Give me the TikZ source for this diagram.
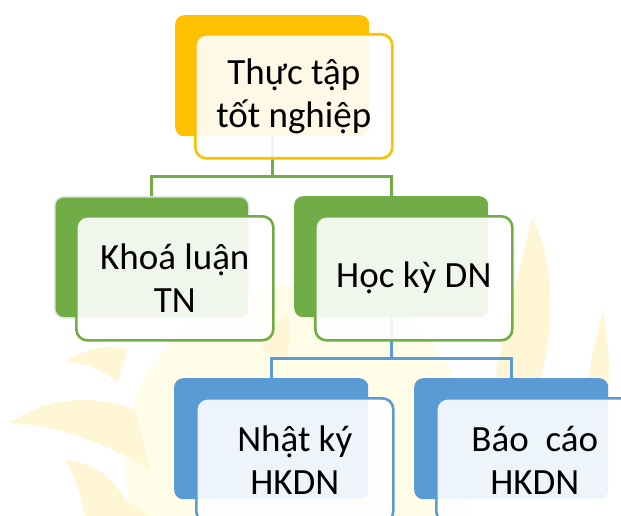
\documentclass[tikz,border=0pt]{standalone}
\usepackage{fontspec}
\setmainfont{Carlito}
\usetikzlibrary{positioning, backgrounds}
\definecolor{GoldYellow}{HTML}{FFC000}
\definecolor{LeafGreen}{HTML}{70AD47}
\definecolor{SkyBlue}{HTML}{5B9BD5}
\definecolor{SunPetal}{HTML}{FFF6D6}
\definecolor{SunCore}{HTML}{FFFCE8}

\begin{document}
\begin{tikzpicture}[
        x=1pt, y=-1pt,
        % Caja trasera (color lleno)
        backbox/.style={
                rectangle,
                rounded corners=9pt,
                minimum width=194pt,
                minimum height=121pt,
                anchor=north west
            },
        % Caja delantera con el texto
        frontbox/.style={
                rectangle,
                rounded corners=11pt,
                minimum width=197pt,
                minimum height=124pt,
                line width=2.6pt,
                fill=white, fill opacity=0.9, text opacity=1,
                text centered,
                align=center,
                font=\fontsize{37}{43}\selectfont,
                anchor=north west
            },
        % Conectores
        link/.style={line width=3pt}
    ]

    \useasboundingbox (0,0) rectangle (621,516);
    \clip (0,0) rectangle (621,516);

    % FONDO (marca de agua)
    \begin{scope}[on background layer]
        \fill[white] (0,0) rectangle (621,516);
        \fill[SunCore] (300,460) circle (175);
        \fill[SunPetal] (65,362) .. controls (90,345) and (115,345) .. (128,350)
            .. controls (122,365) and (120,375) .. (118,382)
            .. controls (100,370) and (85,362) .. (65,362);
        \fill[SunPetal] (10,423) .. controls (50,395) and (100,395) .. (135,410)
            -- (150,470) .. controls (110,445) and (60,425) .. (10,423);
        \fill[SunPetal] (65,460) .. controls (95,462) and (115,480) .. (125,500)
            -- (150,516) -- (85,516) .. controls (80,495) and (75,475) .. (65,460);
        \fill[SunPetal] (532,218) .. controls (555,260) and (555,330) .. (540,380)
            -- (495,380) .. controls (505,320) and (520,270) .. (532,218);
        \fill[SunPetal] (603,310) .. controls (612,360) and (612,420) .. (600,470)
            -- (570,470) .. controls (580,420) and (590,360) .. (603,310);
        \fill[SunPetal] (262,350) .. controls (268,335) and (278,320) .. (288,313)
            .. controls (290,330) and (290,345) .. (286,360) -- cycle;
    \end{scope}

    % NIVEL 1
    \node[backbox, fill=GoldYellow] (tttn-back) at (175,15) {};
    % NIVEL 2
    \node[backbox, fill=LeafGreen, draw=black!12, line width=1.5pt] (kltn-back) at (54,196) {};
    \node[backbox, fill=LeafGreen] (hkdn-back) at (294,196) {};
    % NIVEL 3
    \node[backbox, fill=SkyBlue] (nk-back) at (174,378) {};
    \node[backbox, fill=SkyBlue] (bc-back) at (414,378) {};

    % Conectores
    \draw[link, LeafGreen] (tttn-back.south) -- ++(0,40) -| (kltn-back.north);
    \draw[link, LeafGreen] (tttn-back.south) ++(0,40) -| (hkdn-back.north);
    \draw[link, SkyBlue] (hkdn-back.south) -- ++(0,41) -| (nk-back.north);
    \draw[link, SkyBlue] (hkdn-back.south) ++(0,41) -| (bc-back.north);

    % Cajas con texto
    \node[frontbox, draw=GoldYellow] (tttn) at ([xshift=19pt, yshift=-18pt]tttn-back.north west) {Thực tập\\tốt nghiệp};
    \node[frontbox, draw=LeafGreen] (kltn) at ([xshift=21pt, yshift=-19pt]kltn-back.north west) {Khoá luận\\TN};
    \node[frontbox, draw=LeafGreen] (hkdn) at ([xshift=20pt, yshift=-19pt]hkdn-back.north west) {Học kỳ DN};
    \node[frontbox, draw=SkyBlue] (nk) at ([xshift=21pt, yshift=-19pt]nk-back.north west) {Nhật ký\\HKDN};
    \node[frontbox, draw=SkyBlue] (bc) at ([xshift=21pt, yshift=-19pt]bc-back.north west) {Báo\ \ cáo\\HKDN};

\end{tikzpicture}
\end{document}
